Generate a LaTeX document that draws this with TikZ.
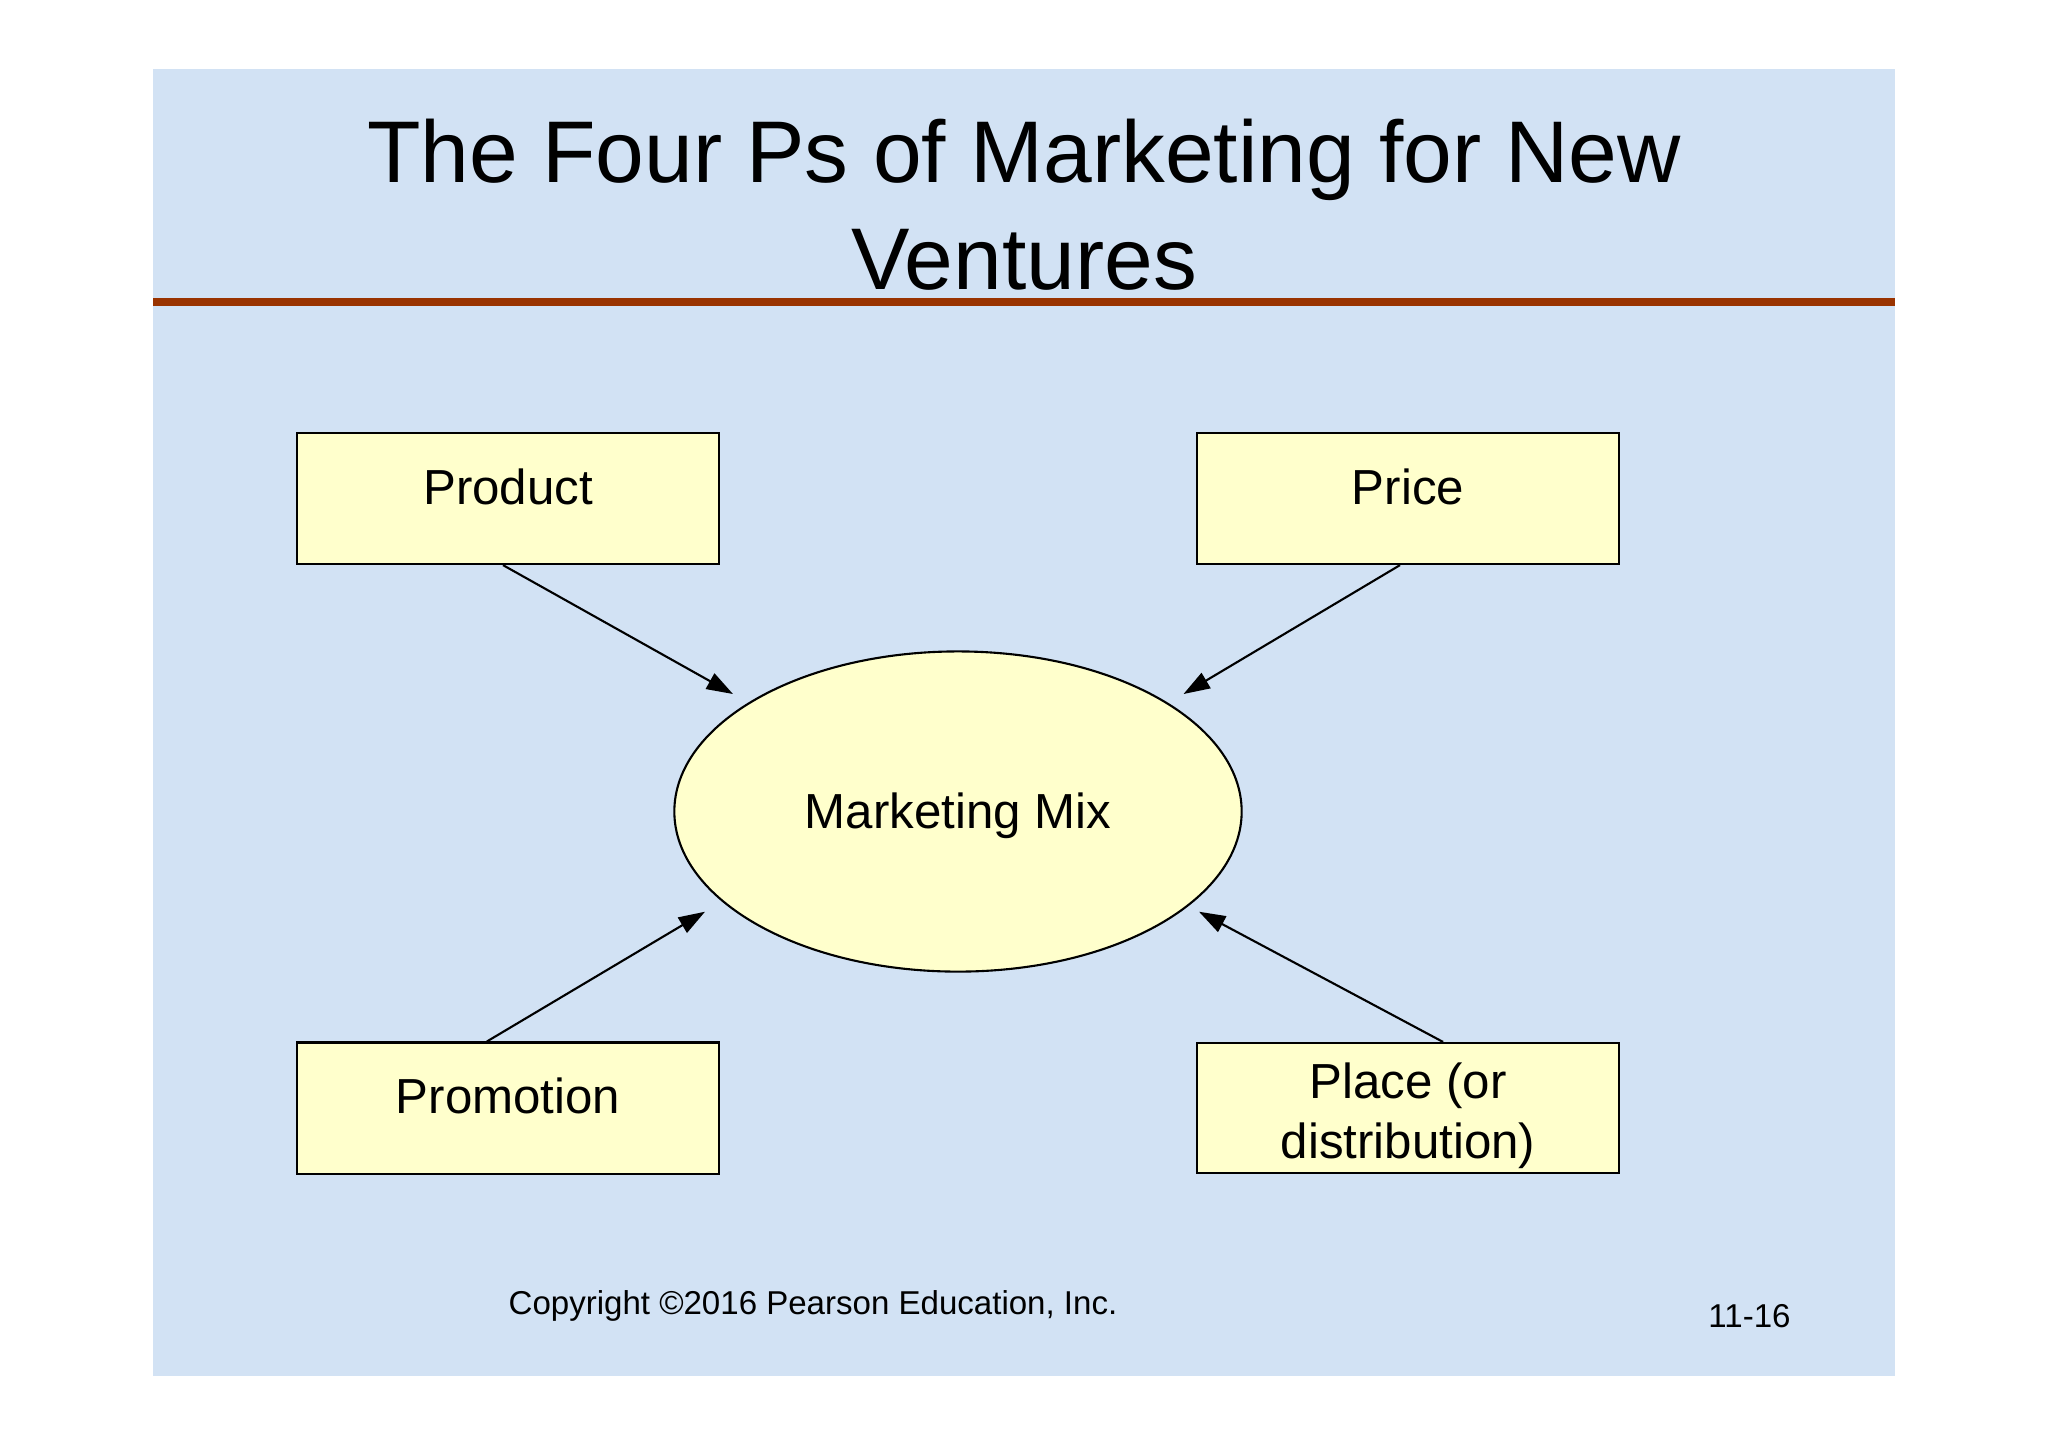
\documentclass[tikz,border=0pt]{standalone}
\usepackage{fontspec}
\setmainfont{Liberation Sans}
\usetikzlibrary{shapes.geometric,arrows.meta}

\definecolor{slidebg}{RGB}{210,226,244}
\definecolor{boxfill}{RGB}{255,255,204}
\definecolor{rulered}{RGB}{153,51,0}

\tikzset{
	pbox/.style={draw, line width=0.6pt, fill=boxfill, minimum width=4.22cm, inner xsep=0pt, inner ysep=0pt, text height=0.71cm, text depth=0.60cm, align=center, font=\fontsize{14}{16.8}\selectfont},
	mixoval/.style={ellipse, draw, line width=0.6pt, fill=boxfill, minimum width=5.67cm, minimum height=3.2cm, inner sep=0pt, text height=0.33cm, text depth=0pt, font=\fontsize{14}{16.8}\selectfont},
	tomix/.style={-{Triangle[length=7.5pt,width=5pt]}, line width=0.6pt},
	titletext/.style={align=center, inner sep=0pt, font=\fontsize{24.9}{30.2}\selectfont},
	foottext/.style={inner sep=0pt, font=\fontsize{9.4}{11}\selectfont}
}

\begin{document}
\begin{tikzpicture}[x=0.01cm, y=-0.01cm]
			\useasboundingbox (0,0) rectangle (2048,1447);
			\fill[white] (0,0) rectangle (2048,1447);
			\fill[slidebg] (153,69) rectangle (1895,1376);
			\node[titletext, anchor=base] (title) at (1024,289) {The Four Ps of Marketing for New\\Ventures};
			\draw[rulered, line width=2.3pt] (153,302) -- (1895,302);
			\node[pbox] (product) at (508,498.5) {Product};
			\node[pbox] (price) at (1408,498.5) {Price};
			\node[pbox] (promotion) at (508,1108) {Promotion};
			\node[pbox, text height=1.15cm, text depth=0.15cm] (place) at (1408,1108) {Place (or\\distribution)};
			\node[mixoval] (mix) at (958,811.5) {Marketing Mix};
			\coordinate (productTip) at (733,694);
			\coordinate (priceTip) at (1183.5,694);
			\coordinate (promotionTip) at (705,911.7);
			\coordinate (placeTip) at (1199,911.7);
			\draw[tomix] ([xshift=-0.5mm]product.south) -- (productTip);
			\draw[tomix] ([xshift=-0.8mm]price.south) -- (priceTip);
			\draw[tomix] ([xshift=-2.1mm]promotion.north) -- (promotionTip);
			\draw[tomix] ([xshift=3.5mm]place.north) -- (placeTip);
			\node[foottext, anchor=base] (copyright) at (813,1314) {Copyright ©2016 Pearson Education, Inc.};
			\node[foottext, anchor=base] (slideno) at (1749.5,1327) {11-16};
		\end{tikzpicture}
\end{document}
